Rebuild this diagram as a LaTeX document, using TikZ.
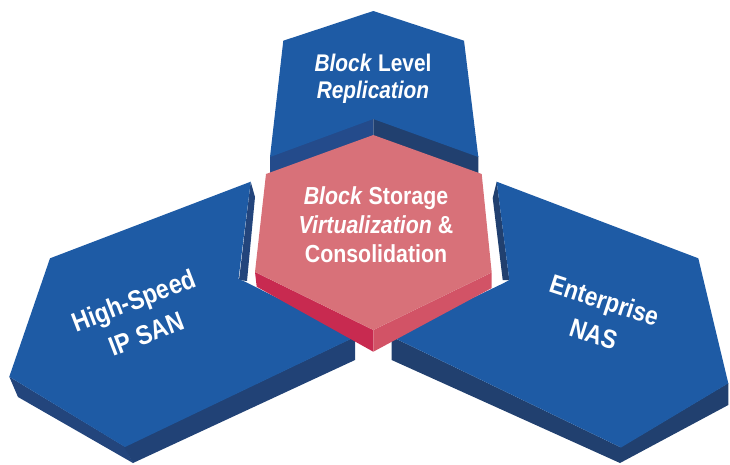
\documentclass[tikz,border=0pt]{standalone}
\usepackage{fontspec}
\setmainfont{Liberation Sans}
\definecolor{faceblue}{HTML}{1E5BA5}
\definecolor{sidelight}{HTML}{244B8B}
\definecolor{sidedark}{HTML}{21406F}
\definecolor{sidemid}{HTML}{23457C}
\definecolor{pinkface}{HTML}{D87179}
\definecolor{pinkleft}{HTML}{C82A50}
\definecolor{pinkright}{HTML}{D25366}
\newcommand\tallline[1]{\scalebox{0.97}[1.12]{#1}}
\begin{document}
\begin{tikzpicture}[x=1pt,y=-1pt,
  lbl/.style={text=white, font=\bfseries, align=center, inner sep=0pt}]
\useasboundingbox (0,0) rectangle (730,464);

% ---- top block (Block Level Replication)
\fill[sidelight] (270,156) -- (373.3,118) -- (373.3,136) -- (270,174) -- cycle;
\fill[sidedark] (373.3,118) -- (478.3,156) -- (478.3,174) -- (373.3,136) -- cycle;
\fill[faceblue] (373.3,11) -- (464,40.7) -- (478.3,157) -- (373.3,119) -- (270,157) -- (283.3,40.7) -- cycle;

% ---- left block (High-Speed IP SAN)
\fill[sidemid] (9.3,376.7) -- (125,446.7) -- (133,463) -- (18,397) -- cycle;
\fill[sidemid!95!black] (124,446.7) -- (355,336.7) -- (355,360) -- (133,463) -- cycle;
\fill[sidemid] (250.7,181.7) -- (255,197) -- (247,281) -- (239,280) -- cycle;
\fill[faceblue] (50,258.3) -- (250.7,181.7) -- (238.5,279) -- (245,281.7) -- (355,337) -- (125,447) -- (9.3,376.7) -- cycle;

% ---- right block (Enterprise NAS)
\fill[sidedark] (391.7,336.7) -- (621,447.5) -- (620,463) -- (391.7,360) -- cycle;
\fill[sidedark] (620,447.5) -- (728.3,383) -- (728.3,405) -- (620,463) -- cycle;
\fill[sidedark] (496.7,181.7) -- (492.7,198) -- (502.7,280) -- (509.3,280) -- cycle;
\fill[faceblue] (496.7,181.7) -- (698.3,258.3) -- (728.3,383.3) -- (621,447.5) -- (391.7,336.7) -- (503.3,283.3) -- (509.3,280) -- cycle;

% ---- centre block (Block Storage Virtualization & Consolidation)
\fill[pinkleft] (255,272) -- (373.3,330) -- (373.3,351.7) -- (256.7,286.7) -- cycle;
\fill[pinkright] (373.3,330) -- (491.7,272.5) -- (491.7,288) -- (373.3,351.7) -- cycle;
\fill[pinkface] (373.3,135) -- (481.7,174) -- (491.7,272.5) -- (373.3,330) -- (255,272) -- (266,174) -- cycle;

% ---- labels
\node[lbl, font=\bfseries\fontsize{21.5}{26.6}\selectfont] (top) at (373,79)
  {\tallline{\textit{Block} Level}\\\tallline{\textit{Replication}}};
\node[lbl, font=\bfseries\fontsize{22}{29}\selectfont] (mid) at (376,225)
  {\tallline{\textit{Block} Storage}\\\tallline{\textit{Virtualization} \&}\\\tallline{Consolidation}};
\node[lbl, rotate=21, font=\bfseries\fontsize{24}{36}\selectfont] (san) at (140,317)
  {\tallline{High-Speed}\\\tallline{IP SAN}};
\node[lbl, rotate=-18, font=\bfseries\fontsize{23.5}{35}\selectfont] (nas) at (599,317)
  {\tallline{Enterprise}\\\tallline{NAS}};
\end{tikzpicture}
\end{document}
